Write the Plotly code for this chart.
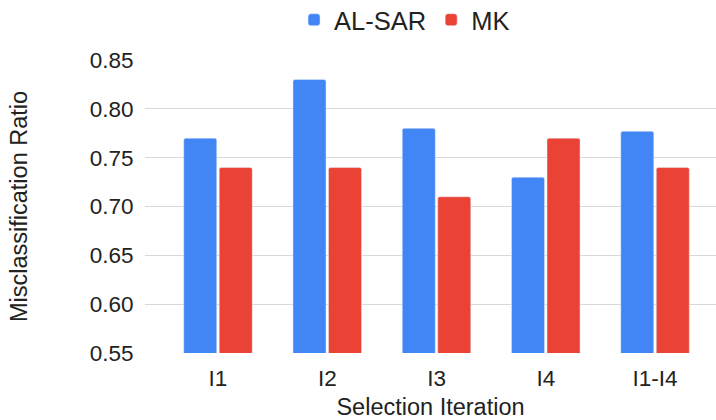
import plotly.graph_objects as go

categories = ["I1", "I2", "I3", "I4", "I1-I4"]
al_sar = [0.77, 0.83, 0.78, 0.73, 0.777]
mk = [0.74, 0.74, 0.71, 0.77, 0.74]
y_ticks = [0.55, 0.60, 0.65, 0.70, 0.75, 0.80, 0.85]
y_tick_text = ["%.2f" % v for v in y_ticks]

FONT = "Liberation Sans, Arial, sans-serif"

fig = go.Figure()
fig.add_trace(go.Bar(name="AL-SAR", x=categories, y=al_sar,
                     marker=dict(color="#4285F4", cornerradius=2)))
fig.add_trace(go.Bar(name="MK", x=categories, y=mk,
                     marker=dict(color="#EA4335", cornerradius=2)))

fig.update_layout(
    width=716, height=420,
    margin=dict(l=145, r=0, t=60, b=67),
    paper_bgcolor="white", plot_bgcolor="white",
    barmode="group", bargap=0.35, bargroupgap=0.07,
    font=dict(family=FONT, color="#222222"),
    legend=dict(orientation="h", xref="container", x=0.565, xanchor="center",
                yref="container", y=0.952, yanchor="middle",
                font=dict(size=25.5, color="#222222"),
                itemwidth=30, traceorder="normal"),
    xaxis=dict(range=[-0.668, 4.558], showgrid=False, showline=False,
               ticks="outside", ticklen=5, tickcolor="rgba(0,0,0,0)",
               tickfont=dict(size=22.5),
               title=dict(text="Selection Iteration", font=dict(size=23.5), standoff=8)),
    yaxis=dict(range=[0.55, 0.85], tickvals=y_ticks, ticktext=y_tick_text,
               gridcolor="#d9d9d9", gridwidth=1, zeroline=False, showline=False,
               ticks="outside", ticklen=6, tickcolor="rgba(0,0,0,0)",
               tickfont=dict(size=22.5),
               title=dict(text="Misclassification Ratio", font=dict(size=23.5), standoff=55)),
)

fig.write_html("out.html")
